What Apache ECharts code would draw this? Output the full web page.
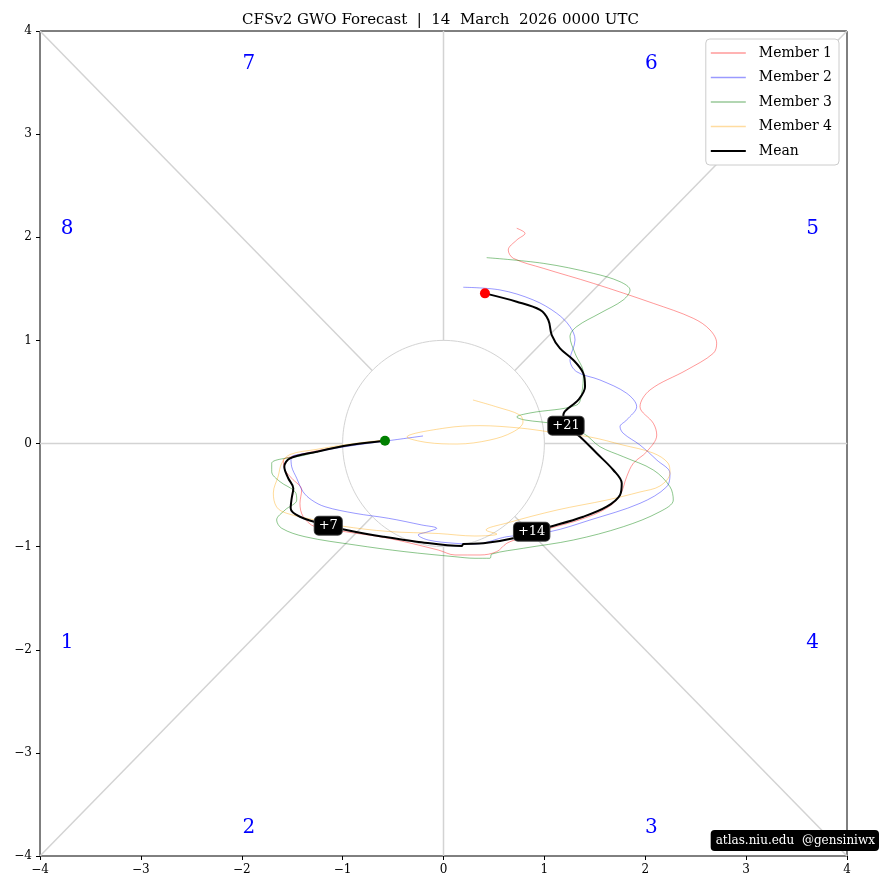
<!DOCTYPE html>
<html><head><meta charset="utf-8">
<script src="https://cdn.jsdelivr.net/npm/echarts@6/dist/echarts.min.js"></script>
<style>html,body{margin:0;padding:0;background:#fff}#c{width:881px;height:890px}</style>
</head><body><div id="c"></div>
<script>
const FONT = 'DejaVu Serif';
const titleText = 'CFSv2 GWO Forecast  |  14  March  2026 0000 UTC';
const creditText = 'atlas.niu.edu  @gensiniwx';
const seriesNames = ['Member 1','Member 2','Member 3','Member 4','Mean'];

const m1x = [-0.580,-0.927,-1.264,-1.522,-1.588,-1.571,-1.505,-1.406,-1.423,-1.390,-1.274,-0.976,-0.547,-0.052,0.114,0.362,0.527,0.627,0.758,1.056,1.353,1.618,1.750,1.816,1.882,2.014,2.114,2.080,1.948,2.047,2.411,2.675,2.708,2.642,2.476,2.080,1.485,0.989,0.692,0.642,0.726,0.808,0.726];
const m1y = [0.029,-0.015,-0.073,-0.131,-0.160,-0.257,-0.337,-0.451,-0.580,-0.710,-0.807,-0.855,-0.919,-1.033,-1.081,-1.081,-1.049,-0.968,-0.919,-0.822,-0.739,-0.628,-0.500,-0.322,-0.192,-0.080,0.082,0.196,0.357,0.519,0.713,0.875,0.972,1.101,1.214,1.359,1.553,1.699,1.796,1.876,1.973,2.038,2.087];

const m2x = [-0.203,-0.570,-0.927,-1.264,-1.512,-1.505,-1.455,-1.393,-1.307,-1.175,-0.877,-0.547,-0.216,-0.067,-0.151,-0.250,-0.151,0.114,0.312,0.627,1.056,1.452,1.948,2.213,2.245,2.114,1.948,1.782,1.750,1.816,1.915,1.816,1.551,1.320,1.254,1.304,1.254,1.122,0.890,0.560,0.196];
const m2y = [0.073,0.024,-0.024,-0.082,-0.140,-0.225,-0.337,-0.467,-0.548,-0.613,-0.677,-0.725,-0.790,-0.822,-0.855,-0.887,-0.936,-0.968,-0.975,-0.904,-0.855,-0.742,-0.580,-0.419,-0.289,-0.160,-0.015,0.099,0.163,0.228,0.357,0.487,0.616,0.696,0.810,1.004,1.133,1.263,1.392,1.489,1.515];

const m3x = [-0.580,-1.009,-1.373,-1.703,-1.703,-1.621,-1.472,-1.455,-1.571,-1.654,-1.604,-1.373,-0.877,-0.382,0.114,0.312,0.461,0.478,0.791,1.287,1.782,2.146,2.278,2.245,2.080,1.782,1.551,1.386,1.105,0.808,0.726,0.858,1.320,1.370,1.386,1.304,1.254,1.320,1.551,1.782,1.849,1.750,1.485,0.989,0.428];
const m3y = [0.029,-0.024,-0.112,-0.192,-0.273,-0.370,-0.467,-0.548,-0.645,-0.742,-0.822,-0.904,-0.984,-1.049,-1.098,-1.113,-1.113,-1.072,-1.016,-0.936,-0.807,-0.661,-0.548,-0.419,-0.257,-0.128,-0.031,0.099,0.189,0.228,0.257,0.296,0.373,0.487,0.681,0.875,1.036,1.133,1.263,1.392,1.488,1.569,1.650,1.747,1.802];

const m4x = [-0.580,-0.927,-1.264,-1.522,-1.604,-1.638,-1.687,-1.654,-1.554,-1.274,-1.009,-0.547,-0.052,0.312,0.530,0.421,0.630,1.125,1.621,1.948,2.146,2.245,2.225,2.077,1.779,1.452,1.056,0.758,0.362,0.015,-0.362,-0.164,0.134,0.461,0.689,0.788,0.758,0.530,0.292];
const m4y = [0.034,-0.005,-0.058,-0.107,-0.192,-0.315,-0.480,-0.616,-0.677,-0.742,-0.800,-0.853,-0.873,-0.897,-0.878,-0.839,-0.771,-0.645,-0.548,-0.470,-0.412,-0.286,-0.189,-0.092,-0.015,0.063,0.112,0.150,0.173,0.150,0.063,0.010,-0.005,0.034,0.112,0.208,0.276,0.354,0.422];

const meanX = [-0.580,-0.927,-1.257,-1.522,-1.578,-1.539,-1.489,-1.505,-1.515,-1.423,-1.142,-0.927,-0.597,-0.266,0.180,0.196,0.395,0.692,0.874,1.056,1.386,1.618,1.750,1.767,1.683,1.519,1.353,1.214,1.188,1.336,1.403,1.386,1.287,1.155,1.073,1.039,0.957,0.726,0.411];
const meanY = [0.027,-0.015,-0.080,-0.144,-0.225,-0.337,-0.434,-0.531,-0.628,-0.710,-0.797,-0.846,-0.904,-0.952,-0.994,-0.975,-0.968,-0.919,-0.855,-0.807,-0.710,-0.613,-0.499,-0.386,-0.257,-0.095,0.066,0.173,0.276,0.422,0.551,0.681,0.810,0.923,1.052,1.198,1.295,1.375,1.456];

const leadLabels = ['+7','+14','+21'];
const leadIdx = [10,18,27];

const phaseLabels = ['1','2','3','4','5','6','7','8'];
const phaseX = [-3.73,-1.93,2.06,3.66,3.66,2.06,-1.93,-3.73];
const phaseY = [-1.935,-3.73,-3.73,-1.935,2.08,3.68,3.68,2.08];

const axisMin = -4, axisMax = 4, axisStep = 1;

function pairs(xs, ys){ return xs.map((x,i)=>[x, ys[i]]); }

const GRAY = '#d3d3d3';
const bg = [];
for (let k = 0; k < 8; k++) {
  const a = k * Math.PI / 4;
  const r2 = (k % 2) ? 4 * Math.SQRT2 : 4;
  bg.push({type:'line', silent:true, symbol:'none', z:1, clip:true,
    data:[[Math.cos(a), Math.sin(a)], [r2*Math.cos(a), r2*Math.sin(a)]],
    lineStyle:{color:GRAY, width:1.5}});
}
const circ = [];
for (let i = 0; i <= 180; i++) { const a = i * 2 * Math.PI / 180; circ.push([Math.cos(a), Math.sin(a)]); }
bg.push({type:'line', silent:true, symbol:'none', z:1, data:circ, lineStyle:{color:GRAY, width:1}});

const memberColors = ['rgba(255,0,0,0.4)','rgba(0,0,255,0.4)','rgba(0,128,0,0.45)','rgba(255,165,0,0.4)'];
const legendColors = ['#ff9a9a','#9a9aff','#99c899','#ffdca0','#000000'];
const memberData = [pairs(m1x,m1y), pairs(m2x,m2y), pairs(m3x,m3y), pairs(m4x,m4y)];
const memberSeries = memberData.map((d,i)=>({
  name: seriesNames[i], type:'line', data:d, symbol:'none', smooth:0.35, z:3,
  color: memberColors[i], lineStyle:{color:memberColors[i], width:1}
}));

const meanData = pairs(meanX, meanY);

const axisCommon = {
  type:'value', min:axisMin, max:axisMax, interval:axisStep,
  axisLine:{show:false, onZero:false},
  axisTick:{show:true, inside:false, length:4, lineStyle:{color:'#000', width:1}},
  axisLabel:{color:'#000', fontFamily:FONT, fontSize:12, margin:8,
    formatter:v=>String(v).replace('-','\u2212')},
  splitLine:{show:false}
};

const thinIcon = 'path://M0,0 H35 V1.6 H0 Z';
const thickIcon = 'path://M0,0 H35 V2.2 H0 Z';

const chart = echarts.init(document.getElementById('c'), null, {renderer:'canvas'});
chart.setOption({
  animation:false,
  backgroundColor:'#fff',
  title:[
    {text:titleText, left:'center', top:8,
      textStyle:{fontFamily:FONT, fontSize:15, fontWeight:'normal', color:'#000'}},
    {text:creditText, right:2, bottom:39, backgroundColor:'#000', borderRadius:4, padding:[5,4,4,5],
      textStyle:{fontFamily:FONT, fontSize:12, fontWeight:'normal', color:'#fff'}}
  ],
  legend:{
    data:seriesNames.map((n,i)=>({name:n, icon: i===4 ? thickIcon : thinIcon, itemStyle:{color:legendColors[i], opacity:1, borderWidth:0}})),
    orient:'vertical', right:42, top:39,
    itemWidth:35, itemHeight:10, itemGap:10.5, padding:[7,7,7,5],
    backgroundColor:'#fff', borderColor:'#ccc', borderWidth:1, borderRadius:4,
    textStyle:{fontFamily:FONT, fontSize:14, color:'#000', padding:[0,0,0,8]}
  },
  grid:{left:40, right:34, top:31, bottom:34, show:true, borderColor:'#000', borderWidth:1, backgroundColor:'transparent'},
  xAxis: axisCommon,
  yAxis: axisCommon,
  series:[
    ...bg,
    ...memberSeries,
    {name:'Mean', type:'line', data:meanData, symbol:'none', smooth:0.35, z:5, color:'#000', lineStyle:{color:'#000', width:2}},
    {type:'scatter', silent:true, z:6, symbolSize:10, itemStyle:{opacity:1}, data:[
      {value:meanData[0], itemStyle:{color:'#008000', opacity:1}},
      {value:meanData[meanData.length-1], itemStyle:{color:'#ff0000', opacity:1}}]},
    {type:'scatter', silent:true, z:7, symbolSize:1, itemStyle:{color:'transparent', opacity:1},
      data: leadIdx.map((ix,i)=>({value:meanData[ix], name:leadLabels[i]})),
      label:{show:true, position:'inside', formatter:p=>p.name, color:'#fff', fontFamily:FONT, fontSize:13,
        backgroundColor:'#000', borderColor:'#444', borderWidth:1, borderRadius:4, padding:[3,4,2,4]}},
    {type:'scatter', silent:true, z:4, symbolSize:1, itemStyle:{color:'transparent', opacity:1},
      data: phaseX.map((x,i)=>({value:[x, phaseY[i]], name:phaseLabels[i]})),
      label:{show:true, position:'inside', formatter:p=>p.name, color:'#0000ff', fontFamily:FONT, fontSize:20}}
  ]
});
</script>
</body></html>
